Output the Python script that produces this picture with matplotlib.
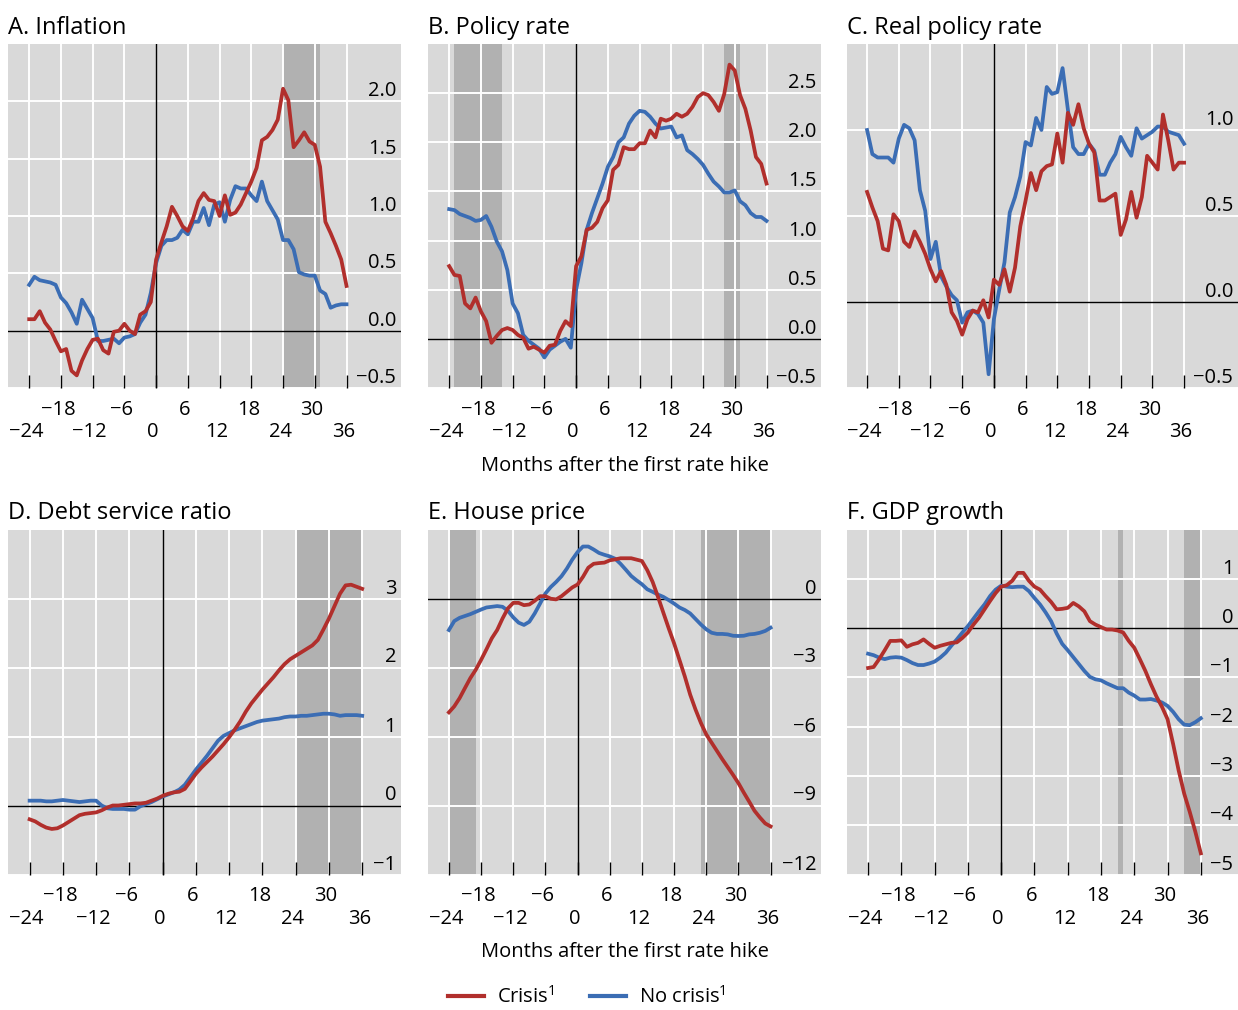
import numpy as np
import matplotlib
matplotlib.use("Agg")
import matplotlib.pyplot as plt
from matplotlib.transforms import ScaledTranslation

plt.rcParams['font.family'] = ['Open Sans', 'DejaVu Sans']
plt.rcParams['mathtext.fontset'] = 'custom'
plt.rcParams['mathtext.rm'] = 'Open Sans'
plt.rcParams['mathtext.default'] = 'regular'

months = np.arange(-24, 37)

# A. Inflation
infl_crisis = [0.10, 0.10, 0.17, 0.07, 0.01, -0.09, -0.18, -0.16, -0.35, -0.39, -0.26, -0.16, -0.08,
               -0.07, -0.17, -0.20, -0.01, 0.00, 0.06, 0.00, -0.03, 0.14, 0.17, 0.25, 0.62, 0.77,
               0.91, 1.08, 1.00, 0.91, 0.87, 0.98, 1.13, 1.20, 1.14, 1.13, 1.00, 1.18, 1.01, 1.03,
               1.10, 1.20, 1.30, 1.42, 1.66, 1.69, 1.75, 1.84, 2.11, 2.01, 1.60, 1.66, 1.73, 1.65,
               1.62, 1.43, 0.95, 0.85, 0.74, 0.62, 0.39]
infl_nocrisis = [0.40, 0.47, 0.44, 0.43, 0.42, 0.40, 0.29, 0.24, 0.16, 0.06, 0.27, 0.19, 0.11,
                 -0.09, -0.09, -0.08, -0.07, -0.11, -0.06, -0.05, -0.03, 0.07, 0.14, 0.33, 0.59,
                 0.74, 0.79, 0.79, 0.81, 0.88, 0.84, 0.95, 0.95, 1.07, 0.92, 1.10, 1.12, 0.95,
                 1.14, 1.26, 1.24, 1.24, 1.18, 1.13, 1.30, 1.13, 1.05, 0.97, 0.79, 0.79, 0.71,
                 0.51, 0.49, 0.48, 0.48, 0.35, 0.32, 0.20, 0.22, 0.23, 0.23]

# B. Policy rate
rate_crisis = [0.74, 0.65, 0.64, 0.36, 0.31, 0.42, 0.28, 0.18, -0.04, 0.03, 0.09, 0.11, 0.09,
               0.04, 0.01, -0.10, -0.08, -0.11, -0.14, -0.07, -0.06, 0.08, 0.18, 0.13, 0.74,
               0.84, 1.11, 1.13, 1.19, 1.33, 1.41, 1.72, 1.77, 1.95, 1.93, 1.93, 1.99, 1.99,
               2.12, 2.05, 2.24, 2.22, 2.24, 2.29, 2.26, 2.29, 2.36, 2.46, 2.50, 2.48, 2.41,
               2.32, 2.49, 2.79, 2.73, 2.48, 2.34, 2.12, 1.85, 1.78, 1.58]
rate_nocrisis = [1.32, 1.31, 1.27, 1.25, 1.23, 1.20, 1.21, 1.25, 1.14, 0.99, 0.89, 0.70, 0.36,
                 0.26, 0.04, -0.02, -0.06, -0.10, -0.19, -0.11, -0.07, -0.03, 0.00, -0.09, 0.50,
                 0.77, 1.11, 1.28, 1.43, 1.58, 1.75, 1.85, 2.00, 2.05, 2.19, 2.27, 2.32, 2.31,
                 2.26, 2.19, 2.14, 2.15, 2.16, 2.05, 2.07, 1.92, 1.88, 1.83, 1.77, 1.68, 1.60,
                 1.55, 1.49, 1.49, 1.51, 1.40, 1.36, 1.28, 1.24, 1.24, 1.20]

# C. Real policy rate
real_crisis = [0.64, 0.55, 0.47, 0.31, 0.30, 0.51, 0.47, 0.35, 0.32, 0.41, 0.35, 0.28, 0.19,
               0.12, 0.18, 0.10, -0.06, -0.11, -0.19, -0.10, -0.05, -0.06, 0.01, -0.09, 0.13,
               0.10, 0.19, 0.06, 0.20, 0.44, 0.59, 0.75, 0.65, 0.76, 0.79, 0.80, 0.98, 0.81,
               1.10, 1.03, 1.15, 1.01, 0.92, 0.87, 0.59, 0.59, 0.61, 0.63, 0.39, 0.48, 0.64,
               0.49, 0.61, 0.85, 0.81, 0.77, 1.09, 0.94, 0.77, 0.81, 0.81]
real_nocrisis = [1.00, 0.86, 0.84, 0.84, 0.84, 0.81, 0.95, 1.03, 1.01, 0.94, 0.65, 0.53, 0.25,
                 0.35, 0.15, 0.09, 0.04, 0.01, -0.12, -0.06, -0.05, -0.07, -0.12, -0.42, -0.10,
                 0.07, 0.23, 0.52, 0.61, 0.73, 0.93, 0.91, 1.07, 1.00, 1.25, 1.21, 1.22, 1.36,
                 1.12, 0.90, 0.86, 0.86, 0.92, 0.88, 0.74, 0.74, 0.81, 0.86, 0.96, 0.90, 0.85,
                 1.01, 0.95, 0.97, 0.99, 1.02, 1.02, 0.99, 0.98, 0.97, 0.92]

# D. Debt service ratio
dsr_crisis = [-0.20, -0.23, -0.28, -0.32, -0.34, -0.33, -0.29, -0.24, -0.19, -0.14, -0.12, -0.11,
              -0.10, -0.07, -0.03, 0.00, 0.00, 0.01, 0.02, 0.03, 0.03, 0.04, 0.07, 0.10, 0.14,
              0.17, 0.19, 0.20, 0.24, 0.35, 0.46, 0.55, 0.63, 0.71, 0.80, 0.89, 0.99, 1.10,
              1.22, 1.36, 1.48, 1.58, 1.68, 1.77, 1.86, 1.96, 2.05, 2.12, 2.17, 2.22, 2.27,
              2.32, 2.40, 2.55, 2.71, 2.89, 3.07, 3.19, 3.20, 3.17, 3.14]
dsr_nocrisis = [0.07, 0.07, 0.07, 0.06, 0.06, 0.07, 0.08, 0.07, 0.06, 0.05, 0.06, 0.07, 0.07,
                0.00, -0.04, -0.05, -0.05, -0.05, -0.06, -0.06, -0.01, 0.02, 0.05, 0.09, 0.13,
                0.16, 0.19, 0.23, 0.30, 0.41, 0.52, 0.62, 0.72, 0.83, 0.94, 1.01, 1.05, 1.09,
                1.12, 1.15, 1.18, 1.21, 1.23, 1.24, 1.25, 1.26, 1.28, 1.29, 1.29, 1.30, 1.30,
                1.31, 1.32, 1.33, 1.33, 1.32, 1.30, 1.31, 1.31, 1.31, 1.30]

# E. House price
house_crisis = [-4.95, -4.69, -4.33, -3.89, -3.46, -3.10, -2.67, -2.21, -1.73, -1.37, -0.87, -0.43,
                -0.19, -0.19, -0.29, -0.26, -0.10, 0.10, 0.10, -0.01, -0.04, 0.10, 0.29, 0.48,
                0.61, 0.94, 1.34, 1.51, 1.54, 1.56, 1.66, 1.70, 1.75, 1.75, 1.75, 1.69, 1.63,
                1.23, 0.72, 0.07, -0.62, -1.30, -1.95, -2.67, -3.39, -4.18, -4.83, -5.41, -5.91,
                -6.27, -6.63, -6.99, -7.33, -7.67, -8.03, -8.44, -8.83, -9.23, -9.52, -9.78, -9.91]
house_nocrisis = [-1.37, -0.98, -0.84, -0.76, -0.68, -0.58, -0.48, -0.39, -0.36, -0.33, -0.36,
                  -0.53, -0.82, -1.05, -1.15, -1.01, -0.65, -0.22, 0.22, 0.50, 0.72, 0.97, 1.30,
                  1.69, 2.02, 2.26, 2.26, 2.13, 1.98, 1.90, 1.83, 1.73, 1.51, 1.25, 0.98, 0.79,
                  0.62, 0.40, 0.29, 0.17, 0.07, -0.07, -0.22, -0.39, -0.50, -0.65, -0.89, -1.13,
                  -1.34, -1.49, -1.54, -1.54, -1.56, -1.62, -1.63, -1.62, -1.56, -1.54, -1.49,
                  -1.41, -1.27]

# F. GDP growth
gdp_crisis = [-0.81, -0.79, -0.63, -0.45, -0.26, -0.26, -0.25, -0.38, -0.33, -0.30, -0.23, -0.32,
              -0.40, -0.36, -0.33, -0.30, -0.29, -0.20, -0.09, 0.07, 0.21, 0.38, 0.55, 0.71,
              0.84, 0.87, 0.96, 1.12, 1.12, 0.96, 0.84, 0.78, 0.65, 0.53, 0.38, 0.39, 0.41,
              0.51, 0.44, 0.34, 0.14, 0.07, 0.02, -0.03, -0.03, -0.05, -0.09, -0.26, -0.40,
              -0.63, -0.87, -1.14, -1.39, -1.60, -1.85, -2.35, -2.89, -3.36, -3.73, -4.13, -4.57]
gdp_nocrisis = [-0.52, -0.55, -0.60, -0.63, -0.60, -0.59, -0.60, -0.65, -0.71, -0.75, -0.75,
                -0.72, -0.68, -0.60, -0.50, -0.36, -0.23, -0.09, 0.04, 0.19, 0.34, 0.48, 0.65,
                0.78, 0.86, 0.84, 0.83, 0.84, 0.84, 0.75, 0.61, 0.48, 0.32, 0.14, -0.11, -0.32,
                -0.45, -0.59, -0.73, -0.87, -0.99, -1.04, -1.06, -1.12, -1.17, -1.22, -1.22,
                -1.31, -1.37, -1.45, -1.45, -1.44, -1.47, -1.51, -1.58, -1.70, -1.85, -1.96,
                -1.97, -1.91, -1.83]

titles = ["A. Inflation", "B. Policy rate", "C. Real policy rate",
          "D. Debt service ratio", "E. House price", "F. GDP growth"]
crisis_series = [infl_crisis, rate_crisis, real_crisis, dsr_crisis, house_crisis, gdp_crisis]
nocrisis_series = [infl_nocrisis, rate_nocrisis, real_nocrisis, dsr_nocrisis, house_nocrisis,
                   gdp_nocrisis]
yticks = [[-0.5, 0.0, 0.5, 1.0, 1.5, 2.0],
          [-0.5, 0.0, 0.5, 1.0, 1.5, 2.0, 2.5],
          [-0.5, 0.0, 0.5, 1.0],
          [-1, 0, 1, 2, 3],
          [-12, -9, -6, -3, 0],
          [-5, -4, -3, -2, -1, 0, 1]]
ylims = [(-0.5, 2.5), (-0.5, 3.0), (-0.5, 1.5), (-1, 4), (-12, 3), (-5, 2)]
xlims = [(-28, 46.3), (-28, 46.3), (-27.8, 46.2), (-27.9, 43.0), (-27.9, 45.4), (-27.8, 42.7)]
# crisis periods shaded in each panel (start, end month)
shaded = [[(24, 31)], [(-23, -14), (28, 31)], [], [(24, 36)], [(-24, -19), (23.1, 36)],
          [(21, 22), (33, 36)]]
decimals = [1, 1, 1, 0, 0, 0]

RED = '#b12f2c'
BLUE = '#3b6db4'
BG = '#d9d9d9'
SHADE = '#b1b1b1'

W, H = 1238, 1010
fig = plt.figure(figsize=(W / 100, H / 100), dpi=100)

col_x = [8, 428, 847]
col_w = [393, 393, 391]
row_top = [44, 529.5]
row_h = [344, 345]

def minus(s):
    return s.replace('-', '\u2212')

label_shift = ScaledTranslation(-3 / 100, 0, fig.dpi_scale_trans)

for i in range(6):
    r, c = divmod(i, 3)
    ax = fig.add_axes([col_x[c] / W, 1 - (row_top[r] + row_h[r]) / H, col_w[c] / W, row_h[r] / H])
    ax.set_facecolor(BG)
    for s in ax.spines.values():
        s.set_visible(False)

    for a, b in shaded[i]:
        ax.axvspan(a, b, color=SHADE, lw=0, zorder=0.5)

    for m in range(-24, 37, 6):
        if m != 0:
            ax.axvline(m, color='white', lw=1.4, zorder=1)
    for y in yticks[i]:
        if y != 0:
            ax.axhline(y, color='white', lw=1.4, zorder=1)
    ax.axhline(0, color='black', lw=1.0, zorder=2)
    ax.axvline(0, color='black', lw=1.0, zorder=2)

    ax.plot(months, crisis_series[i], color=RED, lw=2.7, zorder=4)
    ax.plot(months, nocrisis_series[i], color=BLUE, lw=2.7, zorder=3)

    ax.set_xlim(*xlims[i])
    ax.set_ylim(*ylims[i])

    # two rows of month labels
    ax.set_xticks(range(-24, 37, 12))
    ax.set_xticklabels([minus(str(m)) for m in range(-24, 37, 12)])
    ax.set_xticks(range(-18, 31, 12), minor=True)
    ax.set_xticklabels([minus(str(m)) for m in range(-18, 31, 12)], minor=True)
    ax.tick_params(axis='x', which='both', direction='in', length=9.5, width=1.0,
                   color='black', labelsize=14.5)
    ax.tick_params(axis='x', which='major', pad=24.5)
    ax.tick_params(axis='x', which='minor', pad=8.5)
    for lbl in ax.get_xticklabels() + ax.get_xticklabels(minor=True):
        lbl.set_transform(lbl.get_transform() + label_shift)
    ax.set_yticks([])

    fmt = '{:.%df}' % decimals[i]
    for y in yticks[i]:
        ax.text(0.988, y, minus(fmt.format(y)), transform=ax.get_yaxis_transform(),
                ha='right', va='bottom', fontsize=14.5, zorder=5)

    ax.set_title(titles[i], loc='left', fontsize=17, pad=7.5)

for yy in [466, 952]:
    fig.text(0.5048, 1 - yy / H, "Months after the first rate hike", ha='center', va='center',
             fontsize=14.5)

handles = [plt.Line2D([], [], color=RED, lw=3),
           plt.Line2D([], [], color=BLUE, lw=3)]
fig.legend(handles, ['Crisis$^1$', 'No crisis$^1$'], loc='center', ncol=2,
           bbox_to_anchor=(0.474, 1 - 997 / H), frameon=False, fontsize=14.5,
           handlelength=1.8, columnspacing=1.8, handletextpad=0.6, borderpad=0.2)

fig.savefig('out.png', dpi=100)
